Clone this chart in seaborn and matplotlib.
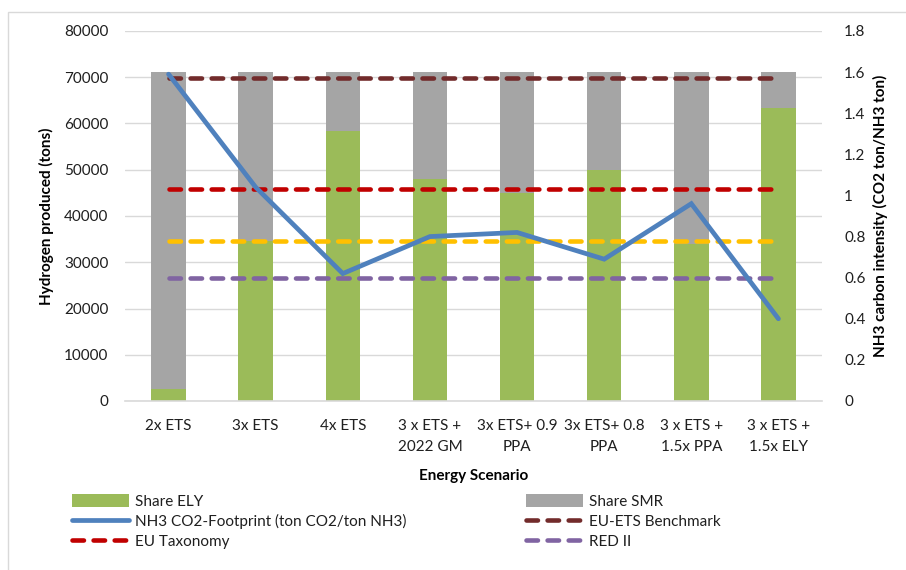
import numpy as np
import matplotlib
matplotlib.use("Agg")
import matplotlib.pyplot as plt
from matplotlib.lines import Line2D
from matplotlib.patches import Patch, Rectangle
from matplotlib.ticker import FuncFormatter
import seaborn as sns

# Scenario data
scenarios = ["2x ETS", "3x ETS", "4x ETS", "3 x ETS +\n2022 GM", "3x ETS+ 0.9\nPPA",
             "3x ETS+ 0.8\nPPA", "3 x ETS +\n1.5x PPA", "3 x ETS +\n1.5x ELY"]
share_ely = [2700, 34700, 58400, 47900, 45000, 49900, 33900, 63400]
share_smr = [68400, 36400, 12700, 23200, 26100, 21200, 37200, 7700]
co2_footprint = [1.59, 1.04, 0.62, 0.80, 0.82, 0.69, 0.96, 0.40]
eu_ets_benchmark = [1.57] * 8
eu_taxonomy = [1.03] * 8
threshold_078 = [0.78] * 8
red_ii = [0.60] * 8

C_ELY = "#9BBB59"
C_SMR = "#A5A5A5"
C_BLUE = "#4F81BD"
C_ETS = "#722B2B"
C_TAX = "#C00000"
C_YEL = "#FFC000"
C_RED2 = "#8064A2"
GRID = "#D9D9D9"
TXT = "#1F1F1F"

sns.set_theme(style="white")
plt.rcParams["font.family"] = ["Lato", "DejaVu Sans"]

W, H = 906, 570
fig = plt.figure(figsize=(W / 100, H / 100), dpi=100)
ax = fig.add_axes([125 / W, 1 - 401 / H, 697 / W, 370 / H])

# chart border
fig.patches.append(Rectangle((8 / W, -0.1), 1.2, (1 - 12 / H) + 0.1, transform=fig.transFigure,
                             fill=False, edgecolor=GRID, lw=1.0))

total = [e + s for e, s in zip(share_ely, share_smr)]
bar_w = 0.395
sns.barplot(x=scenarios, y=total, color=C_SMR, saturation=1, width=bar_w, ax=ax, linewidth=0)
sns.barplot(x=scenarios, y=share_ely, color=C_ELY, saturation=1, width=bar_w, ax=ax, linewidth=0)

ax.set_ylim(0, 80000)
ax.set_xlim(-0.5, 7.5)
ax.set_yticks(np.arange(0, 80001, 10000))
ax.yaxis.grid(True, color=GRID, lw=1.0)
ax.set_axisbelow(True)
for s in ["left", "right", "top"]:
    ax.spines[s].set_visible(False)
ax.spines["bottom"].set_color(GRID)
ax.spines["bottom"].set_linewidth(1.2)
ax.tick_params(axis="both", length=0, labelsize=11, colors=TXT)
ax.tick_params(axis="y", pad=12)
ax.tick_params(axis="x", pad=13)
for lab in ax.get_xticklabels():
    lab.set_linespacing(1.6)
ax.set_xlabel("Energy Scenario", fontsize=11, fontweight="bold", color="black")
ax.xaxis.set_label_coords(0.5, -(476 - 401) / 370, transform=ax.transAxes)
ax.xaxis.label.set_va("center")
ax.set_ylabel("Hydrogen produced (tons)", fontsize=11, fontweight="bold", color="black")
ax.yaxis.set_label_coords((46 - 125) / 697, 0.5)
ax.yaxis.label.set_va("center")

ax2 = ax.twinx()
pos = np.arange(len(scenarios))
dash = (0, (2.5, 2.1))
dash_kw = dict(lw=3.3, linestyle=dash, dash_capstyle="round")
sns.lineplot(x=pos, y=eu_ets_benchmark, ax=ax2, color=C_ETS, **dash_kw)
sns.lineplot(x=pos, y=eu_taxonomy, ax=ax2, color=C_TAX, **dash_kw)
sns.lineplot(x=pos, y=threshold_078, ax=ax2, color=C_YEL, **dash_kw)
sns.lineplot(x=pos, y=red_ii, ax=ax2, color=C_RED2, **dash_kw)
sns.lineplot(x=pos, y=co2_footprint, ax=ax2, color=C_BLUE, lw=3.4,
             solid_capstyle="round", solid_joinstyle="miter")
ax2.set_xlim(-0.5, 7.5)
ax2.set_ylim(0, 1.8)
ax2.set_yticks(np.arange(0, 1.81, 0.2))
ax2.yaxis.set_major_formatter(FuncFormatter(lambda v, p: f"{v:g}" if abs(v) > 1e-9 else "0"))
for s in ["left", "right", "top", "bottom"]:
    ax2.spines[s].set_visible(False)
ax2.tick_params(axis="y", length=0, labelsize=11, colors=TXT, pad=16)
ax2.grid(False)
ax2.set_ylabel("NH3 carbon intensity (CO2 ton/NH3 ton)", fontsize=11, fontweight="bold", color="black")
ax2.yaxis.set_label_coords((880 - 125) / 697, 0.5)
ax2.yaxis.label.set_va("center")

# legend in two columns
def dashed(c):
    return Line2D([], [], color=c, lw=3.3, linestyle=(0, (2.5, 2.1)), dash_capstyle="round")

col1 = [(Patch(facecolor=C_ELY, edgecolor="none"), "Share ELY"),
        (Line2D([], [], color=C_BLUE, lw=3.4, solid_capstyle="round"), "NH3 CO2-Footprint (ton CO2/ton NH3)"),
        (dashed(C_TAX), "EU Taxonomy")]
col2 = [(Patch(facecolor=C_SMR, edgecolor="none"), "Share SMR"),
        (dashed(C_ETS), "EU-ETS Benchmark"),
        (dashed(C_RED2), "RED II")]
leg_kw = dict(loc="upper left", frameon=False, fontsize=11, handlelength=3.7, handleheight=0.9,
              handletextpad=0.45, labelspacing=0.36, borderpad=0, borderaxespad=0)
for items, x0 in [(col1, 72), (col2, 526)]:
    lg = fig.legend([h for h, _ in items], [l for _, l in items],
                    bbox_to_anchor=(x0 / W, 1 - 494 / H), **leg_kw)
    for t in lg.get_texts():
        t.set_color(TXT)

fig.savefig("out.png", dpi=100, facecolor="white")
